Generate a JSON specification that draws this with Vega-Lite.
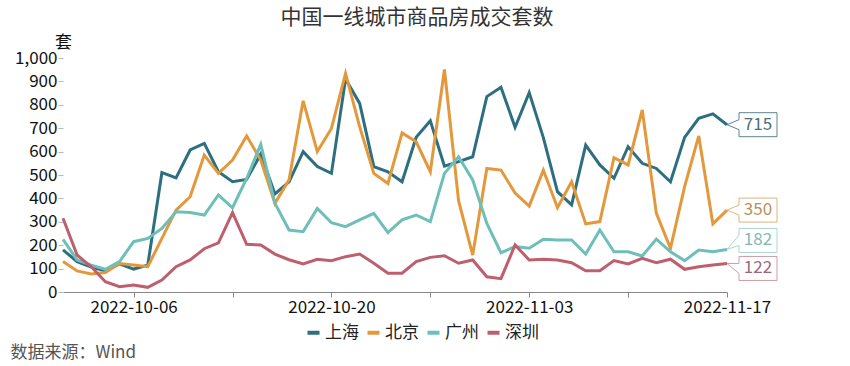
{
  "$schema": "https://vega.github.io/schema/vega-lite/v6.json",
  "width": 664,
  "height": 234,
  "autosize": {"type": "none"},
  "padding": {"left": 63, "top": 58, "right": 123, "bottom": 74},
  "background": "white",
  "config": {
    "font": "Noto Sans CJK SC",
    "view": {"stroke": null}
  },
  "title": {
    "text": "中国一线城市商品房成交套数",
    "fontSize": 21,
    "fontWeight": "normal",
    "color": "#333333",
    "anchor": "middle",
    "dx": 22,
    "offset": 5
  },
  "datasets": {
    "sales": [
      {"date": "2022-10-01", "上海": 180, "北京": 130, "广州": 225, "深圳": 315},
      {"date": "2022-10-02", "上海": 130, "北京": 90, "广州": 137, "深圳": 158},
      {"date": "2022-10-03", "上海": 107, "北京": 77, "广州": 115, "深圳": 108},
      {"date": "2022-10-04", "上海": 90, "北京": 83, "广州": 97, "深圳": 44},
      {"date": "2022-10-05", "上海": 120, "北京": 122, "广州": 130, "深圳": 23},
      {"date": "2022-10-06", "上海": 98, "北京": 115, "广州": 215, "深圳": 30},
      {"date": "2022-10-07", "上海": 115, "北京": 108, "广州": 229, "深圳": 20},
      {"date": "2022-10-08", "上海": 510, "北京": 229, "广州": 272, "深圳": 51},
      {"date": "2022-10-09", "上海": 488, "北京": 350, "广州": 343, "深圳": 108},
      {"date": "2022-10-10", "上海": 607, "北京": 407, "广州": 340, "深圳": 137},
      {"date": "2022-10-11", "上海": 635, "北京": 585, "广州": 329, "深圳": 185},
      {"date": "2022-10-12", "上海": 514, "北京": 507, "广州": 415, "深圳": 210},
      {"date": "2022-10-13", "上海": 471, "北京": 564, "广州": 360, "深圳": 339},
      {"date": "2022-10-14", "上海": 481, "北京": 667, "广州": 485, "深圳": 204},
      {"date": "2022-10-15", "上海": 590, "北京": 564, "广州": 631, "深圳": 201},
      {"date": "2022-10-16", "上海": 419, "北京": 379, "广州": 379, "深圳": 162},
      {"date": "2022-10-17", "上海": 471, "北京": 480, "广州": 265, "深圳": 138},
      {"date": "2022-10-18", "上海": 600, "北京": 817, "广州": 258, "深圳": 120},
      {"date": "2022-10-19", "上海": 536, "北京": 600, "广州": 357, "深圳": 140},
      {"date": "2022-10-20", "上海": 507, "北京": 699, "广州": 296, "深圳": 134},
      {"date": "2022-10-21", "上海": 910, "北京": 934, "广州": 279, "深圳": 151},
      {"date": "2022-10-22", "上海": 806, "北京": 706, "广州": 308, "深圳": 162},
      {"date": "2022-10-23", "上海": 536, "北京": 507, "广州": 336, "深圳": 123},
      {"date": "2022-10-24", "上海": 514, "北京": 464, "广州": 254, "深圳": 80},
      {"date": "2022-10-25", "上海": 471, "北京": 680, "广州": 308, "深圳": 80},
      {"date": "2022-10-26", "上海": 661, "北京": 642, "广州": 329, "深圳": 130},
      {"date": "2022-10-27", "上海": 732, "北京": 514, "广州": 301, "深圳": 148},
      {"date": "2022-10-28", "上海": 538, "北京": 951, "广州": 507, "深圳": 155},
      {"date": "2022-10-29", "上海": 557, "北京": 390, "广州": 578, "深圳": 123},
      {"date": "2022-10-30", "上海": 578, "北京": 158, "广州": 479, "深圳": 137},
      {"date": "2022-10-31", "上海": 835, "北京": 528, "广州": 293, "深圳": 65},
      {"date": "2022-11-01", "上海": 875, "北京": 521, "广州": 168, "深圳": 57},
      {"date": "2022-11-02", "上海": 704, "北京": 423, "广州": 194, "深圳": 201},
      {"date": "2022-11-03", "上海": 852, "北京": 367, "广州": 187, "深圳": 137},
      {"date": "2022-11-04", "上海": 660, "北京": 521, "广州": 225, "深圳": 140},
      {"date": "2022-11-05", "上海": 429, "北京": 360, "广州": 222, "深圳": 137},
      {"date": "2022-11-06", "上海": 372, "北京": 471, "广州": 222, "深圳": 125},
      {"date": "2022-11-07", "上海": 628, "北京": 291, "广州": 162, "深圳": 91},
      {"date": "2022-11-08", "上海": 543, "北京": 301, "广州": 265, "深圳": 91},
      {"date": "2022-11-09", "上海": 486, "北京": 574, "广州": 172, "深圳": 134},
      {"date": "2022-11-10", "上海": 621, "北京": 543, "广州": 172, "深圳": 120},
      {"date": "2022-11-11", "上海": 550, "北京": 778, "广州": 154, "深圳": 144},
      {"date": "2022-11-12", "上海": 528, "北京": 336, "广州": 226, "深圳": 125},
      {"date": "2022-11-13", "上海": 471, "北京": 187, "广州": 172, "深圳": 140},
      {"date": "2022-11-14", "上海": 661, "北京": 450, "广州": 134, "深圳": 97},
      {"date": "2022-11-15", "上海": 742, "北京": 667, "广州": 179, "深圳": 108},
      {"date": "2022-11-16", "上海": 761, "北京": 291, "广州": 172, "深圳": 115},
      {"date": "2022-11-17", "上海": 715, "北京": 350, "广州": 182, "深圳": 122}
    ]
  },
  "data": {"name": "sales"},
  "transform": [
    {"fold": ["上海", "北京", "广州", "深圳"], "as": ["city", "value"]}
  ],
  "encoding": {
    "x": {
      "field": "date",
      "type": "temporal",
      "timeUnit": "utcyearmonthdate",
      "scale": {
        "domain": [
          {"year": 2022, "month": 10, "date": 1, "utc": true},
          {"year": 2022, "month": 11, "date": 17, "utc": true}
        ]
      },
      "axis": {
        "values": [
          {"year": 2022, "month": 10, "date": 6, "utc": true},
          {"year": 2022, "month": 10, "date": 13, "utc": true},
          {"year": 2022, "month": 10, "date": 20, "utc": true},
          {"year": 2022, "month": 10, "date": 27, "utc": true},
          {"year": 2022, "month": 11, "date": 3, "utc": true},
          {"year": 2022, "month": 11, "date": 10, "utc": true},
          {"year": 2022, "month": 11, "date": 17, "utc": true}
        ],
        "format": "%Y-%m-%d",
        "labelExpr": "indexof(['2022-10-06','2022-10-20','2022-11-03','2022-11-17'], datum.label) >= 0 ? datum.label : ''",
        "labelFontSize": 17,
        "labelColor": "#111111",
        "labelPadding": 2,
        "labelFlush": false,
        "labelOverlap": false,
        "grid": false,
        "domainColor": "#888888",
        "tickColor": "#888888",
        "tickSize": 5,
        "title": "数据来源：Wind",
        "titleX": -53,
        "titleY": 60,
        "titleAlign": "left",
        "titleBaseline": "middle",
        "titleFontSize": 17,
        "titleFontWeight": "normal",
        "titleColor": "#555555"
      }
    },
    "y": {
      "field": "value",
      "type": "quantitative",
      "scale": {"domain": [0, 1000]},
      "axis": {
        "values": [0, 100, 200, 300, 400, 500, 600, 700, 800, 900, 1000],
        "format": ",d",
        "labelFontSize": 17,
        "labelColor": "#111111",
        "labelPadding": 1,
        "grid": false,
        "domain": false,
        "tickSize": 5,
        "tickColor": "#bbbbbb",
        "title": "套",
        "titleAngle": 0,
        "titleX": 0,
        "titleY": -16,
        "titleAlign": "center",
        "titleBaseline": "middle",
        "titleFontSize": 17,
        "titleFontWeight": "normal",
        "titleColor": "#111111"
      }
    }
  },
  "layer": [
    {
      "mark": {"type": "line", "strokeWidth": 3, "interpolate": "linear"},
      "encoding": {
        "color": {
          "field": "city",
          "type": "nominal",
          "scale": {
            "domain": ["上海", "北京", "广州", "深圳"],
            "range": ["#2d6e80", "#e4983c", "#6ebeb9", "#be5f6e"]
          },
          "legend": {
            "orient": "none",
            "legendX": 242,
            "legendY": 266,
            "direction": "horizontal",
            "title": null,
            "symbolType": "stroke",
            "symbolStrokeWidth": 4,
            "symbolSize": 144,
            "labelFontSize": 17,
            "labelColor": "#222222",
            "labelOffset": 3,
            "columnPadding": 0
          }
        }
      }
    },
    {
      "transform": [{"filter": "datum.city == '上海' && time(toDate(datum.date)) == utc(2022,10,17)"}],
      "mark": {"type": "point", "shape": "M0,0L0.48,-0.2L0.48,-0.48L2,-0.48L2,0.48L0.48,0.48L0.48,0.2Z", "size": 2500, "filled": true, "fill": "white", "stroke": "#5d8490", "strokeWidth": 1, "opacity": 1}
    },
    {
      "transform": [{"filter": "datum.city == '北京' && time(toDate(datum.date)) == utc(2022,10,17)"}],
      "mark": {"type": "point", "shape": "M0,0L0.48,-0.2L0.48,-0.48L2,-0.48L2,0.48L0.48,0.48L0.48,0.2Z", "size": 2500, "filled": true, "fill": "white", "stroke": "#dcb57f", "strokeWidth": 1, "opacity": 1}
    },
    {
      "transform": [{"filter": "datum.city == '广州' && time(toDate(datum.date)) == utc(2022,10,17)"}],
      "mark": {"type": "point", "shape": "M0,0L0.48,-0.16L0.48,0.12L2,0.12L2,-0.84L0.48,-0.84L0.48,-0.56Z", "size": 2500, "filled": true, "fill": "white", "stroke": "#a9d3d1", "strokeWidth": 1, "opacity": 1}
    },
    {
      "transform": [{"filter": "datum.city == '深圳' && time(toDate(datum.date)) == utc(2022,10,17)"}],
      "mark": {"type": "point", "shape": "M0,0L0.48,0L0.48,-0.28L2,-0.28L2,0.68L0.48,0.68L0.48,0.4Z", "size": 2500, "filled": true, "fill": "white", "stroke": "#cf9ca6", "strokeWidth": 1, "opacity": 1}
    },
    {
      "transform": [{"filter": "datum.city == '上海' && time(toDate(datum.date)) == utc(2022,10,17)"}],
      "mark": {"type": "text", "dx": 31, "dy": 0, "align": "center", "baseline": "middle", "fontSize": 17, "color": "#4a6f7a"},
      "encoding": {"text": {"field": "value", "type": "quantitative"}}
    },
    {
      "transform": [{"filter": "datum.city == '北京' && time(toDate(datum.date)) == utc(2022,10,17)"}],
      "mark": {"type": "text", "dx": 31, "dy": 0, "align": "center", "baseline": "middle", "fontSize": 17, "color": "#b8915e"},
      "encoding": {"text": {"field": "value", "type": "quantitative"}}
    },
    {
      "transform": [{"filter": "datum.city == '广州' && time(toDate(datum.date)) == utc(2022,10,17)"}],
      "mark": {"type": "text", "dx": 31, "dy": -9, "align": "center", "baseline": "middle", "fontSize": 17, "color": "#86b7b6"},
      "encoding": {"text": {"field": "value", "type": "quantitative"}}
    },
    {
      "transform": [{"filter": "datum.city == '深圳' && time(toDate(datum.date)) == utc(2022,10,17)"}],
      "mark": {"type": "text", "dx": 31, "dy": 5, "align": "center", "baseline": "middle", "fontSize": 17, "color": "#9c6876"},
      "encoding": {"text": {"field": "value", "type": "quantitative"}}
    }
  ]
}
